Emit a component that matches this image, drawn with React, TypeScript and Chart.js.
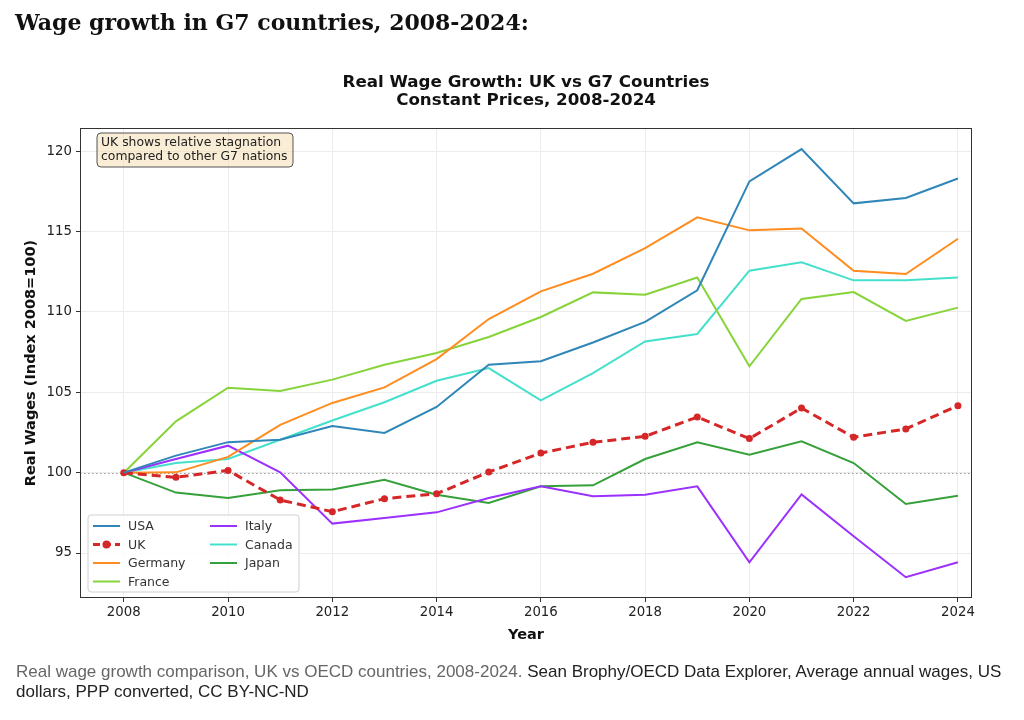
import React, { useEffect, useRef } from "react";
import { Chart, registerables } from "chart.js";
Chart.register(...registerables);

const years = [2008, 2009, 2010, 2011, 2012, 2013, 2014, 2015, 2016, 2017, 2018, 2019, 2020, 2021, 2022, 2023, 2024];
const usa = [100, 101.06, 101.9, 102.05, 102.9, 102.47, 104.09, 106.72, 106.93, 108.1, 109.38, 111.35, 118.13, 120.14, 116.76, 117.09, 118.31];
const uk = [100, 99.71, 100.14, 98.3, 97.57, 98.38, 98.69, 100.04, 101.22, 101.89, 102.26, 103.46, 102.12, 104.02, 102.2, 102.72, 104.17];
const germany = [100, 100.02, 100.98, 102.97, 104.34, 105.31, 107.07, 109.56, 111.28, 112.38, 113.98, 115.89, 115.08, 115.2, 112.57, 112.36, 114.56];
const france = [100, 103.19, 105.29, 105.08, 105.79, 106.72, 107.45, 108.44, 109.69, 111.22, 111.08, 112.15, 106.62, 110.81, 111.24, 109.44, 110.27];
const italy = [100, 100.85, 101.68, 100.02, 96.83, 97.18, 97.53, 98.42, 99.15, 98.53, 98.63, 99.15, 94.42, 98.65, 96.04, 93.49, 94.42];
const canada = [100, 100.6, 100.85, 102.05, 103.25, 104.38, 105.72, 106.51, 104.5, 106.2, 108.17, 108.63, 112.57, 113.09, 111.97, 111.97, 112.15];
const japan = [100, 98.76, 98.42, 98.9, 98.96, 99.56, 98.63, 98.11, 99.15, 99.21, 100.85, 101.89, 101.12, 101.95, 100.6, 98.05, 98.57];

const seriesNames = ["USA", "UK", "Germany", "France", "Italy", "Canada", "Japan"];
const seriesValues = [usa, uk, germany, france, italy, canada, japan];
const seriesColors = ["#2f86b8", "#d62728", "#ff8c1f", "#86d43a", "#9b30ff", "#45e0cc", "#36a13a"];

const xTicks = [2008, 2010, 2012, 2014, 2016, 2018, 2020, 2022, 2024];
const yTicks = [95, 100, 105, 110, 115, 120];

const chartTitle = ["Real Wage Growth: UK vs G7 Countries", "Constant Prices, 2008-2024"];
const noteLines = ["UK shows relative stagnation", "compared to other G7 nations"];
const xTitle = "Year";
const yTitle = "Real Wages (Index 2008=100)";

const FONT = "'DejaVu Sans', sans-serif";

function roundRect(ctx: CanvasRenderingContext2D, x: number, y: number, w: number, h: number, r: number) {
  ctx.beginPath();
  ctx.moveTo(x + r, y);
  ctx.lineTo(x + w - r, y);
  ctx.quadraticCurveTo(x + w, y, x + w, y + r);
  ctx.lineTo(x + w, y + h - r);
  ctx.quadraticCurveTo(x + w, y + h, x + w - r, y + h);
  ctx.lineTo(x + r, y + h);
  ctx.quadraticCurveTo(x, y + h, x, y + h - r);
  ctx.lineTo(x, y + r);
  ctx.quadraticCurveTo(x, y, x + r, y);
  ctx.closePath();
}

const decorPlugin = {
  id: "decor",
  beforeDatasetsDraw(chart: any) {
    const { ctx, chartArea, scales } = chart;
    const y = Math.round(scales.y.getPixelForValue(100)) + 0.5;
    ctx.save();
    ctx.strokeStyle = "#9a9a9a";
    ctx.lineWidth = 1;
    ctx.setLineDash([1.5, 2.5]);
    ctx.beginPath();
    ctx.moveTo(chartArea.left, y);
    ctx.lineTo(chartArea.right, y);
    ctx.stroke();
    ctx.restore();
  },
  afterDatasetsDraw(chart: any) {
    const { ctx, chartArea } = chart;
    ctx.save();
    ctx.strokeStyle = "#333";
    ctx.lineWidth = 1;
    ctx.strokeRect(chartArea.left + 0.5, chartArea.top + 0.5, chartArea.right - chartArea.left - 1, chartArea.bottom - chartArea.top - 1);

    const ax = chartArea.left + 17, ay = chartArea.top + 5;
    roundRect(ctx, ax, ay, 196, 34, 4);
    ctx.fillStyle = "rgba(245,222,179,0.55)";
    ctx.fill();
    ctx.strokeStyle = "#555";
    ctx.lineWidth = 1;
    ctx.stroke();
    ctx.fillStyle = "#222";
    ctx.font = `12.4px ${FONT}`;
    ctx.textBaseline = "middle";
    ctx.textAlign = "left";
    ctx.fillText(noteLines[0], ax + 4, ay + 10);
    ctx.fillText(noteLines[1], ax + 4, ay + 23.5);

    const lx = chartArea.left + 8, ly = chartArea.bottom - 83;
    roundRect(ctx, lx, ly, 211, 77, 3);
    ctx.fillStyle = "rgba(255,255,255,0.85)";
    ctx.fill();
    ctx.strokeStyle = "#d0d0d0";
    ctx.stroke();
    ctx.font = `12.5px ${FONT}`;
    for (let i = 0; i < seriesNames.length; i++) {
      const col = i < 4 ? 0 : 1;
      const row = i < 4 ? i : i - 4;
      const sx = lx + 5 + col * 117;
      const sy = ly + 11 + row * 18.5;
      ctx.strokeStyle = seriesColors[i];
      ctx.lineWidth = i === 1 ? 3 : 2;
      ctx.setLineDash(i === 1 ? [7, 4] : []);
      ctx.beginPath();
      ctx.moveTo(sx, sy);
      ctx.lineTo(sx + 27, sy);
      ctx.stroke();
      ctx.setLineDash([]);
      if (i === 1) {
        ctx.fillStyle = seriesColors[i];
        ctx.beginPath();
        ctx.arc(sx + 13.5, sy, 4, 0, Math.PI * 2);
        ctx.fill();
      }
      ctx.fillStyle = "#333";
      ctx.fillText(seriesNames[i], sx + 35, sy + 1);
    }
    ctx.restore();
  },
  afterDraw(chart: any) {
    const { ctx, chartArea } = chart;
    ctx.save();
    ctx.fillStyle = "#111";
    ctx.textAlign = "center";
    ctx.textBaseline = "middle";
    ctx.font = `bold 16.7px ${FONT}`;
    const cx = (chartArea.left + chartArea.right) / 2;
    ctx.fillText(chartTitle[0], cx, 83);
    ctx.fillText(chartTitle[1], cx, 101);
    ctx.font = `bold 14.5px ${FONT}`;
    ctx.fillText(xTitle, cx, 635);
    ctx.translate(31, (chartArea.top + chartArea.bottom) / 2);
    ctx.rotate(-Math.PI / 2);
    ctx.fillText(yTitle, 0, 0);
    ctx.restore();
  },
};

export default function App() {
  const ref = useRef<HTMLCanvasElement | null>(null);
  useEffect(() => {
    if (!ref.current) return;
    const datasets = seriesNames.map((name, i) => ({
      label: name,
      data: years.map((yr, j) => ({ x: yr, y: seriesValues[i][j] })),
      borderColor: seriesColors[i],
      backgroundColor: seriesColors[i],
      borderWidth: i === 1 ? 3 : 2,
      borderDash: i === 1 ? [9, 5] : [],
      pointRadius: i === 1 ? 3.5 : 0,
      pointBorderWidth: 0,
      pointBackgroundColor: seriesColors[i],
      tension: 0,
      fill: false,
    }));
    const tickFont = { family: FONT, size: 13.3 };
    const chart = new Chart(ref.current, {
      type: "line",
      data: { datasets },
      plugins: [decorPlugin],
      options: {
        animation: false,
        responsive: false,
        devicePixelRatio: 1,
        layout: { padding: { left: 20, top: 128, right: 52, bottom: 92 } },
        plugins: { legend: { display: false }, tooltip: { enabled: false }, title: { display: false } },
        scales: {
          x: {
            type: "linear",
            min: 2007.16,
            max: 2024.27,
            afterBuildTicks: (s: any) => { s.ticks = xTicks.map((v) => ({ value: v })); },
            afterFit: (s: any) => { s.height = 30; },
            ticks: { callback: (v: any) => String(v), font: tickFont, color: "#222", padding: 3, maxRotation: 0, autoSkip: false },
            grid: { color: "#ececec", tickColor: "#333", tickLength: 4, drawTicks: true },
            border: { display: false },
          },
          y: {
            type: "linear",
            min: 92.2,
            max: 121.45,
            afterBuildTicks: (s: any) => { s.ticks = yTicks.map((v) => ({ value: v })); },
            afterFit: (s: any) => { s.width = 60; },
            ticks: { callback: (v: any) => String(v), font: tickFont, color: "#222", padding: 4, autoSkip: false },
            grid: { color: "#ececec", tickColor: "#333", tickLength: 4, drawTicks: true },
            border: { display: false },
          },
        },
      } as any,
    });
    return () => chart.destroy();
  }, []);

  return (
    <div style={{ position: "absolute", left: 0, top: 0, width: 1024, height: 720, background: "#fff", overflow: "hidden" }}>
      <canvas ref={ref} width={1024} height={720} style={{ position: "absolute", left: 0, top: 0, width: 1024, height: 720 }} />
      <div style={{ position: "absolute", left: 15, top: 8, fontFamily: "'DejaVu Serif', serif", fontWeight: "bold", fontSize: 22, lineHeight: "28px", color: "#111", whiteSpace: "nowrap" }}>
        Wage growth in G7 countries, 2008-2024:
      </div>
      <div style={{ position: "absolute", left: 16, top: 662, width: 1000, fontFamily: "'Liberation Sans', Arial, sans-serif", fontSize: 17, lineHeight: "20px", color: "#666" }}>
        Real wage growth comparison, UK vs OECD countries, 2008-2024.{" "}
        <span style={{ color: "#222" }}>Sean Brophy/OECD Data Explorer, Average annual wages, US dollars, PPP converted, CC BY-NC-ND</span>
      </div>
    </div>
  );
}
